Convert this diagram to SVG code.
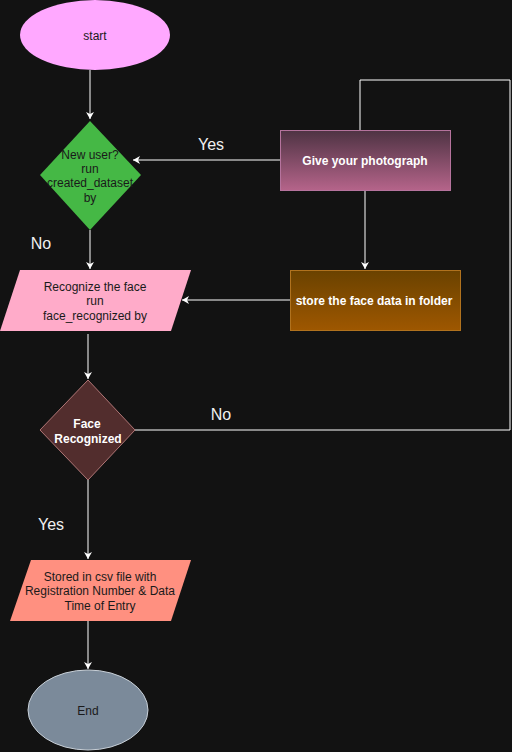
<svg xmlns="http://www.w3.org/2000/svg" width="512" height="752" viewBox="0 0 512 752">
<style>
text{font-family:"Liberation Sans",Arial,sans-serif;font-size:12px;text-anchor:middle;dominant-baseline:central}
.dk{fill:#1a1a1a}
.wt{fill:#ffffff}
.lbl{font-size:16px;fill:#f0f0f0}
.ln{fill:none;stroke:#ffffff;stroke-width:1}
</style>
<defs>
<marker id="ah" markerWidth="10" markerHeight="10" refX="8" refY="5" orient="auto" markerUnits="userSpaceOnUse">
<path d="M1,1 L8,5 L1,9 L3,5 Z" fill="#ffffff"/>
</marker>
<linearGradient id="gp" x1="0" y1="0" x2="0" y2="1"><stop offset="0" stop-color="#4e3343"/><stop offset="1" stop-color="#b5648a"/></linearGradient>
<linearGradient id="gs" x1="0" y1="0" x2="0" y2="1"><stop offset="0" stop-color="#6a4200"/><stop offset="1" stop-color="#9e5700"/></linearGradient>
</defs>
<rect width="512" height="752" fill="#121212"/>
<g id="connectors">
<path class="ln" d="M90,70 V119" marker-end="url(#ah)"/>
<path class="ln" d="M280,160 H133" marker-end="url(#ah)"/>
<path class="ln" d="M365,190 V269" marker-end="url(#ah)"/>
<path class="ln" d="M290,300 H182" marker-end="url(#ah)"/>
<path class="ln" d="M90,230 V269" marker-end="url(#ah)"/>
<path class="ln" d="M88,334 V379" marker-end="url(#ah)"/>
<path class="ln" d="M135,430 H510 V80 H360 V130"/>
<path class="ln" d="M88,480 V559" marker-end="url(#ah)"/>
<path class="ln" d="M88,620 V669" marker-end="url(#ah)"/>
<text class="lbl" x="211" y="144">Yes</text>
<text class="lbl" x="41" y="243">No</text>
<text class="lbl" x="221" y="414">No</text>
<text class="lbl" x="51" y="524">Yes</text>
</g>
<g id="start">
<ellipse cx="95" cy="35" rx="75" ry="35" fill="#ffa8ff"/>
<text class="dk" x="95" y="36">start</text>
</g>
<g id="newuser">
<polygon points="90,121 141,175 90,230 40,175" fill="#45b845"/>
<text class="dk" x="90" y="155">New user?</text>
<text class="dk" x="90" y="169">run</text>
<text class="dk" x="90" y="183">created_dataset</text>
<text class="dk" x="90" y="198">by</text>
</g>
<g id="photo">
<rect x="280.5" y="130.5" width="170" height="60" fill="url(#gp)" stroke="#b5739d"/>
<text class="wt" x="365" y="161" font-weight="bold">Give your photograph</text>
</g>
<g id="store">
<rect x="290.5" y="270.5" width="170" height="60" fill="url(#gs)" stroke="#b0721e"/>
<text class="wt" x="374" y="301" font-weight="bold">store the face data in folder</text>
</g>
<g id="recognize">
<polygon points="20,270 191,270 171,331 0,331" fill="#ffabc9"/>
<text class="dk" x="95" y="287">Recognize the face</text>
<text class="dk" x="95" y="301">run</text>
<text class="dk" x="95" y="316">face_recognized by</text>
</g>
<g id="facerec">
<polygon points="88,380 135,430 88,480 40,430" fill="#522d2d" stroke="#b07676"/>
<text class="wt" x="87" y="424" font-weight="bold">Face</text>
<text class="wt" x="88" y="439" font-weight="bold">Recognized</text>
</g>
<g id="stored">
<polygon points="31,560 191,560 171,621 10,621" fill="#ff9080"/>
<text class="dk" x="100" y="577">Stored in csv file with</text>
<text class="dk" x="100" y="591">Registration Number &amp; Data</text>
<text class="dk" x="100" y="606">Time of Entry</text>
</g>
<g id="end">
<ellipse cx="88" cy="710" rx="60" ry="40" fill="#7b8a9a" stroke="#c8d0d8"/>
<text class="dk" x="88" y="711">End</text>
</g>
</svg>
